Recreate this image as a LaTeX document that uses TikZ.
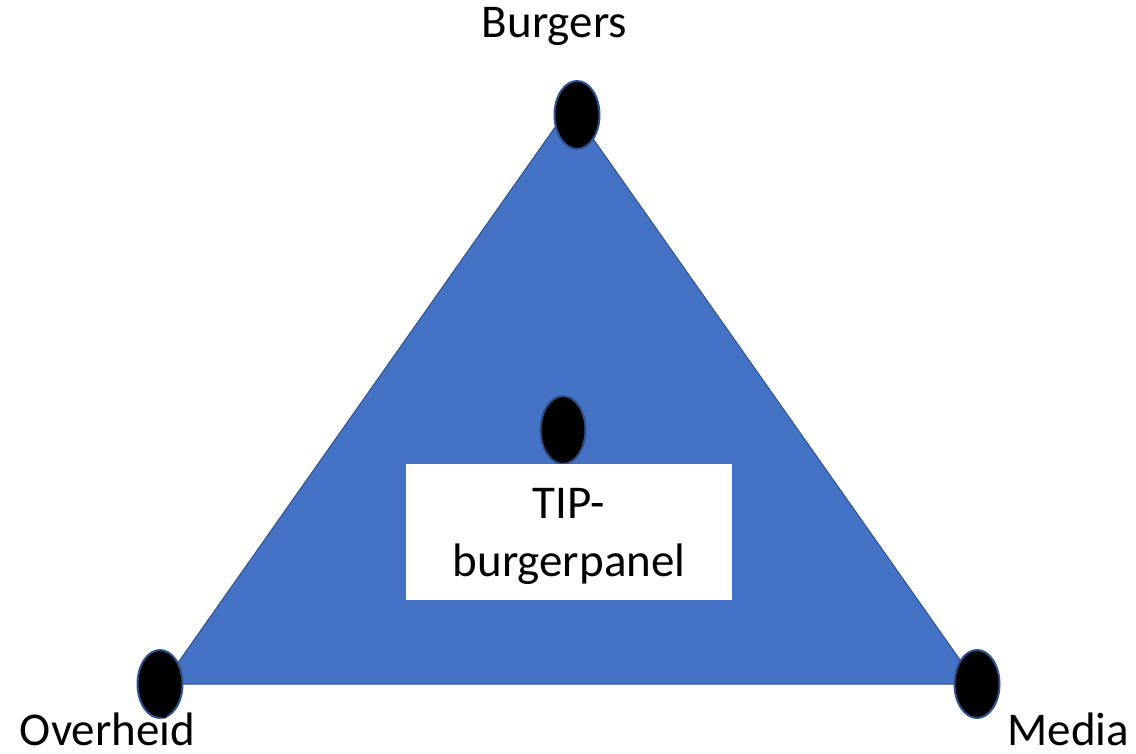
\documentclass[tikz,border=0pt]{standalone}
\usepackage{fontspec}
\setmainfont{Carlito}
\usetikzlibrary{shapes.geometric}
\definecolor{triblue}{HTML}{4472C4}
\definecolor{edgeblue}{HTML}{2F528F}
\tikzset{
  dot/.style={ellipse, fill=black, draw=edgeblue, line width=2pt, minimum width=45pt, minimum height=68pt, inner sep=0pt},
  lbl/.style={font=\fontsize{47}{56}\selectfont, inner sep=0pt, anchor=base},
}
\begin{document}
\begin{tikzpicture}[x=1pt,y=-1pt]
\useasboundingbox (0,0) rectangle (1136,754);
\coordinate (ptop) at (570,106);
\coordinate (pleft) at (163,684);
\coordinate (pright) at (977,684);
\filldraw[fill=triblue, draw=edgeblue, line width=1pt, line join=round] (ptop) -- (pleft) -- (pright) -- cycle;
\node[dot] (burgers) at (577,115) {};
\node[dot] (overheid) at (160,684) {};
\node[dot] (media) at (977,684) {};
\node[dot] (tip) at (563,430) {};
\node[fill=white, minimum width=326pt, minimum height=136pt, inner sep=0pt] (panel) at (569,532) {};
\node[lbl] (panel1) at (569,518) {TIP-};
\node[lbl] (panel2) at (569,576) {burgerpanel};
\node[lbl] (lburgers) at (554.5,38) {Burgers};
\node[lbl] (loverheid) at (107.5,745) {Overheid};
\node[lbl] (lmedia) at (1068.5,745) {Media};
\end{tikzpicture}
\end{document}
